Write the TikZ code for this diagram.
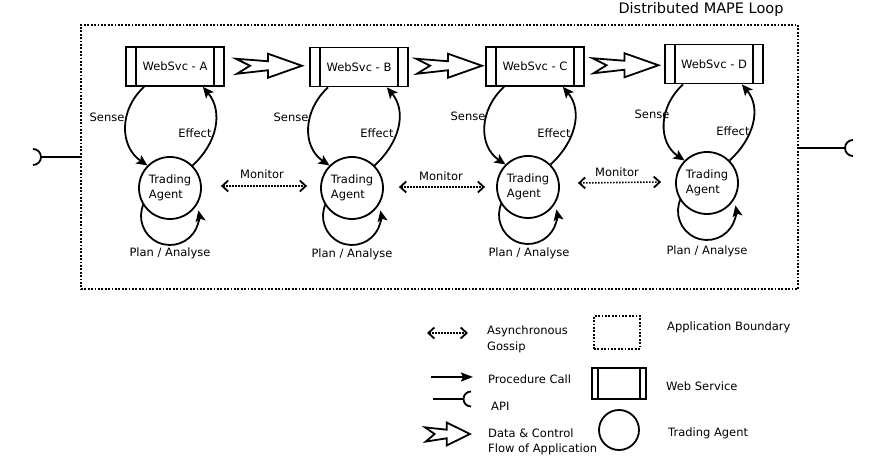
\documentclass[tikz,border=0pt]{standalone}
\usepackage{fontspec}
\setmainfont{DejaVu Sans}
\usetikzlibrary{arrows.meta,calc}
\begin{document}
\begin{tikzpicture}[x=1pt,y=1pt,
  lw/.style={line width=1.8pt},
  wsbase/.style={draw, lw, inner sep=0pt,
    path picture={\draw[lw] ([xshift=#1]path picture bounding box.north west) -- ([xshift=#1]path picture bounding box.south west)
      ([xshift=-#1]path picture bounding box.north east) -- ([xshift=-#1]path picture bounding box.south east);}},
  wsvc/.style={wsbase=10pt, minimum width=98pt, minimum height=39pt, font=\fontsize{11.5}{13}\selectfont},
  agent/.style={circle, draw, lw, minimum size=62pt, inner sep=0pt, align=left, font=\fontsize{11.5}{15}\selectfont},
  lbl/.style={font=\fontsize{11.5}{15}\selectfont, inner sep=0pt},
  call/.style={lw, -{Stealth[length=11pt,width=10pt,inset=2.5pt]}},
  gossip/.style={line width=1.6pt, dash pattern=on 1.6pt off 1.4pt,
    {Straight Barb[length=6pt,width=11pt,line width=1.8pt]}-{Straight Barb[length=6pt,width=11pt,line width=1.8pt]}},
  boundary/.style={draw, line width=1.8pt, dash pattern=on 1.8pt off 1.6pt, inner sep=0pt},
  flowarrow/.pic={\draw[lw, line join=miter] (-33,7) -- (-1,4.5) -- (-1,12) -- (33,0) -- (-1,-12) -- (-1,-4.5) -- (-32,-8) -- (-19,0) -- cycle;}
]
\useasboundingbox (0,0) rectangle (881,458);
\fill[white] (0,0) rectangle (881,458);

% boundary and title
\node[boundary, minimum width=717pt, minimum height=264pt] (bnd) at (439.5,301) {};
\node[lbl, font=\fontsize{14.5}{16}\selectfont] (title) at (701,448) {Distributed MAPE Loop};

% API connectors
\coordinate (apiL) at (41,301);
\draw[lw] (bnd.west) -- (apiL);
\draw[lw] (apiL) ++(-8,8) arc[start angle=90, end angle=-90, radius=8];
\coordinate (apiR0) at ($(bnd.east)+(0,9)$);
\coordinate (apiR) at (845,310);
\draw[lw] (apiR0) -- (apiR);
\draw[lw] (apiR) ++(8,8) arc[start angle=90, end angle=270, radius=8];

% web services
\node[wsvc] (wA) at (175,391.5) {WebSvc - A};
\node[wsvc] (wB) at (359,391) {WebSvc - B};
\node[wsvc] (wC) at (535,391.5) {WebSvc - C};
\node[wsvc] (wD) at (714,394) {WebSvc - D};

% flow arrows
\pic at ($(wA.east)!0.5!(wB.west)+(2,1)$) {flowarrow};
\pic at ($(wB.east)!0.5!(wC.west)+(2,1)$) {flowarrow};
\pic at ($(wC.east)!0.5!(wD.west)+(1,0)$) {flowarrow};

% agents
\node[agent] (tA) at (170,270) {Trading\\Agent};
\node[agent] (tB) at (352,270) {Trading\\Agent};
\node[agent] (tC) at (528,271) {Trading\\Agent};
\node[agent] (tD) at (707,275) {Trading\\Agent};

% sense / effect / plan loops
\foreach \w/\t in {wA/tA, wB/tB, wC/tC, wD/tD}{
  \draw[call] ($(\w.south west)+(19,0)$) to[out=222,in=146,looseness=1.1] (\t.135);
  \draw[call] (\t.45) to[out=42,in=-50,looseness=1.05] ($(\w.south east)+(-22,0)$);
  \draw[call] ($(\t)+(0,-28)+(155:29)$) arc[start angle=155, end angle=371, radius=29];
}

% labels
\node[lbl] (sA) at (107,341) {Sense};
\node[lbl] (eA) at (195,325) {Effect};
\node[lbl] (sB) at (291,341) {Sense};
\node[lbl] (eB) at (377,325) {Effect};
\node[lbl] (sC) at (468,342) {Sense};
\node[lbl] (eC) at (554,325) {Effect};
\node[lbl] (sD) at (652,344) {Sense};
\node[lbl] (eD) at (733,327) {Effect};
\node[lbl] (pA) at (170,205) {Plan / Analyse};
\node[lbl] (pB) at (352,204) {Plan / Analyse};
\node[lbl] (pC) at (529,205) {Plan / Analyse};
\node[lbl] (pD) at (707,207) {Plan / Analyse};

% monitor
\draw[gossip] ($(tA.east)+(19,2)$) -- ($(tB.west)+(-13,2)$);
\draw[gossip] ($(tB.east)+(15,1)$) -- ($(tC.west)+(-11,0)$);
\draw[gossip] ($(tC.east)+(18,4)$) -- ($(tD.west)+(-14,1)$);
\node[lbl] (mA) at (262,284) {Monitor};
\node[lbl] (mB) at (441,282) {Monitor};
\node[lbl] (mC) at (617,286) {Monitor};

% legend
\coordinate (g1) at (427,125);
\coordinate (g2) at (468,125);
\draw[gossip] (g1) -- (g2);
\node[lbl, anchor=west, align=left, font=\fontsize{11.5}{16}\selectfont] (tg) at (487,119) {Asynchronous\\Gossip};

\node[boundary, minimum width=46pt, minimum height=33pt] (lb) at (617,125.5) {};
\node[lbl, anchor=west] (tlb) at (667,131) {Application Boundary};

\coordinate (c1) at (431,81);
\coordinate (c2) at (473,81);
\draw[lw, -{Stealth[length=12pt,width=9pt,inset=2pt]}] (c1) -- (c2);
\node[lbl, anchor=west] (tc) at (488,79) {Procedure Call};

\coordinate (a1) at (433,59);
\coordinate (a2) at (463.5,59);
\draw[lw] (a1) -- (a2);
\draw[lw] (a2) ++(7.5,7.5) arc[start angle=90, end angle=270, radius=7.5];
\node[lbl, anchor=west] (ta) at (491,52) {API};

\node[wsbase=6pt, minimum width=54pt, minimum height=31pt] (lws) at (619,74.5) {};
\node[lbl, anchor=west] (tw) at (666,72) {Web Service};

\pic[xscale=0.68, yscale=0.95] at (447.5,24) {flowarrow};
\node[lbl, anchor=west, align=left, font=\fontsize{11.5}{15}\selectfont] (tf) at (488,16) {Data \& Control\\Flow of Application};

\node[circle, draw, lw, minimum size=40pt, inner sep=0pt] (lt) at (619,28) {};
\node[lbl, anchor=west] (tt) at (668,25) {Trading Agent};
\end{tikzpicture}
\end{document}
